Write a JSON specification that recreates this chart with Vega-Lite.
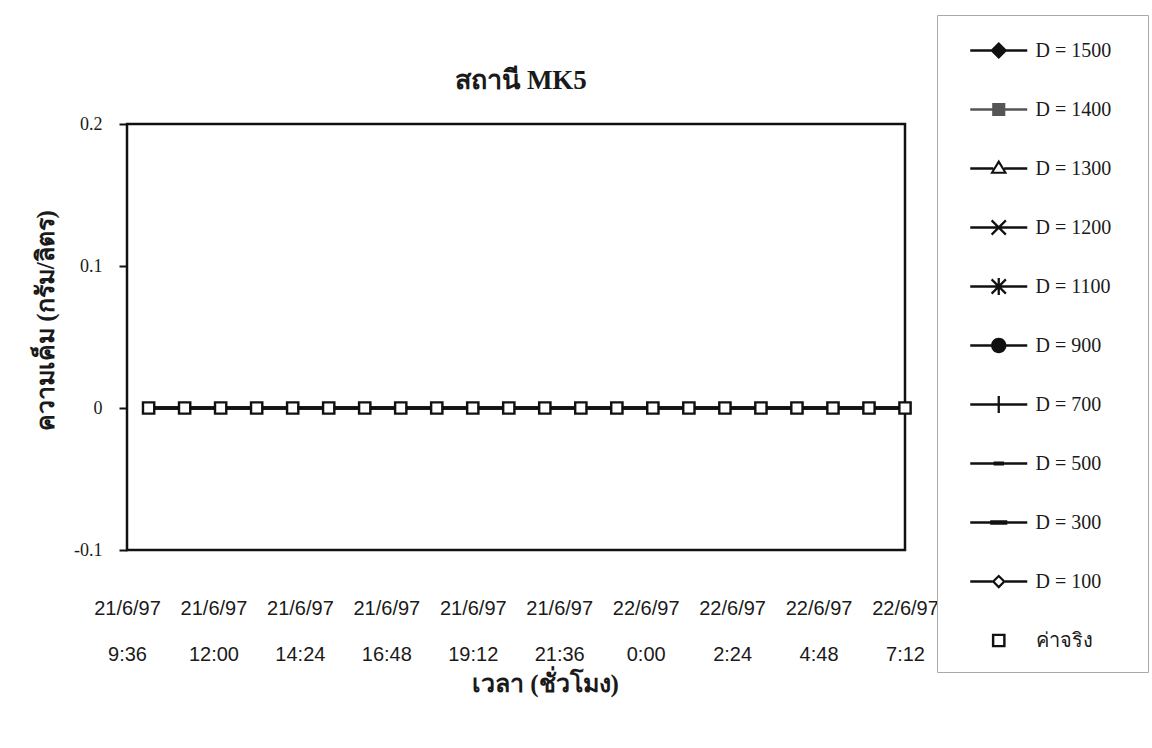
{
  "$schema": "https://vega.github.io/schema/vega-lite/v6.json",
  "width": 778,
  "height": 426,
  "autosize": {"type": "none"},
  "padding": {"left": 127, "top": 124, "right": 247, "bottom": 198},
  "background": "white",
  "title": {
    "text": "สถานี MK5",
    "font": "Liberation Serif",
    "fontSize": 27,
    "fontWeight": "bold",
    "color": "#1a1a1a",
    "anchor": "middle",
    "frame": "group",
    "baseline": "alphabetic",
    "offset": 0,
    "dx": 5,
    "dy": 101
  },
  "data": {
    "values": [
      {"t": "1997-06-21T10:12", "D = 1500": 0, "D = 1400": 0, "D = 1300": 0, "D = 1200": 0, "D = 1100": 0, "D = 900": 0, "D = 700": 0, "D = 500": 0, "D = 300": 0, "D = 100": 0, "ค่าจริง": 0},
      {"t": "1997-06-21T11:12", "D = 1500": 0, "D = 1400": 0, "D = 1300": 0, "D = 1200": 0, "D = 1100": 0, "D = 900": 0, "D = 700": 0, "D = 500": 0, "D = 300": 0, "D = 100": 0, "ค่าจริง": 0},
      {"t": "1997-06-21T12:12", "D = 1500": 0, "D = 1400": 0, "D = 1300": 0, "D = 1200": 0, "D = 1100": 0, "D = 900": 0, "D = 700": 0, "D = 500": 0, "D = 300": 0, "D = 100": 0, "ค่าจริง": 0},
      {"t": "1997-06-21T13:12", "D = 1500": 0, "D = 1400": 0, "D = 1300": 0, "D = 1200": 0, "D = 1100": 0, "D = 900": 0, "D = 700": 0, "D = 500": 0, "D = 300": 0, "D = 100": 0, "ค่าจริง": 0},
      {"t": "1997-06-21T14:12", "D = 1500": 0, "D = 1400": 0, "D = 1300": 0, "D = 1200": 0, "D = 1100": 0, "D = 900": 0, "D = 700": 0, "D = 500": 0, "D = 300": 0, "D = 100": 0, "ค่าจริง": 0},
      {"t": "1997-06-21T15:12", "D = 1500": 0, "D = 1400": 0, "D = 1300": 0, "D = 1200": 0, "D = 1100": 0, "D = 900": 0, "D = 700": 0, "D = 500": 0, "D = 300": 0, "D = 100": 0, "ค่าจริง": 0},
      {"t": "1997-06-21T16:12", "D = 1500": 0, "D = 1400": 0, "D = 1300": 0, "D = 1200": 0, "D = 1100": 0, "D = 900": 0, "D = 700": 0, "D = 500": 0, "D = 300": 0, "D = 100": 0, "ค่าจริง": 0},
      {"t": "1997-06-21T17:12", "D = 1500": 0, "D = 1400": 0, "D = 1300": 0, "D = 1200": 0, "D = 1100": 0, "D = 900": 0, "D = 700": 0, "D = 500": 0, "D = 300": 0, "D = 100": 0, "ค่าจริง": 0},
      {"t": "1997-06-21T18:12", "D = 1500": 0, "D = 1400": 0, "D = 1300": 0, "D = 1200": 0, "D = 1100": 0, "D = 900": 0, "D = 700": 0, "D = 500": 0, "D = 300": 0, "D = 100": 0, "ค่าจริง": 0},
      {"t": "1997-06-21T19:12", "D = 1500": 0, "D = 1400": 0, "D = 1300": 0, "D = 1200": 0, "D = 1100": 0, "D = 900": 0, "D = 700": 0, "D = 500": 0, "D = 300": 0, "D = 100": 0, "ค่าจริง": 0},
      {"t": "1997-06-21T20:12", "D = 1500": 0, "D = 1400": 0, "D = 1300": 0, "D = 1200": 0, "D = 1100": 0, "D = 900": 0, "D = 700": 0, "D = 500": 0, "D = 300": 0, "D = 100": 0, "ค่าจริง": 0},
      {"t": "1997-06-21T21:12", "D = 1500": 0, "D = 1400": 0, "D = 1300": 0, "D = 1200": 0, "D = 1100": 0, "D = 900": 0, "D = 700": 0, "D = 500": 0, "D = 300": 0, "D = 100": 0, "ค่าจริง": 0},
      {"t": "1997-06-21T22:12", "D = 1500": 0, "D = 1400": 0, "D = 1300": 0, "D = 1200": 0, "D = 1100": 0, "D = 900": 0, "D = 700": 0, "D = 500": 0, "D = 300": 0, "D = 100": 0, "ค่าจริง": 0},
      {"t": "1997-06-21T23:12", "D = 1500": 0, "D = 1400": 0, "D = 1300": 0, "D = 1200": 0, "D = 1100": 0, "D = 900": 0, "D = 700": 0, "D = 500": 0, "D = 300": 0, "D = 100": 0, "ค่าจริง": 0},
      {"t": "1997-06-22T00:12", "D = 1500": 0, "D = 1400": 0, "D = 1300": 0, "D = 1200": 0, "D = 1100": 0, "D = 900": 0, "D = 700": 0, "D = 500": 0, "D = 300": 0, "D = 100": 0, "ค่าจริง": 0},
      {"t": "1997-06-22T01:12", "D = 1500": 0, "D = 1400": 0, "D = 1300": 0, "D = 1200": 0, "D = 1100": 0, "D = 900": 0, "D = 700": 0, "D = 500": 0, "D = 300": 0, "D = 100": 0, "ค่าจริง": 0},
      {"t": "1997-06-22T02:12", "D = 1500": 0, "D = 1400": 0, "D = 1300": 0, "D = 1200": 0, "D = 1100": 0, "D = 900": 0, "D = 700": 0, "D = 500": 0, "D = 300": 0, "D = 100": 0, "ค่าจริง": 0},
      {"t": "1997-06-22T03:12", "D = 1500": 0, "D = 1400": 0, "D = 1300": 0, "D = 1200": 0, "D = 1100": 0, "D = 900": 0, "D = 700": 0, "D = 500": 0, "D = 300": 0, "D = 100": 0, "ค่าจริง": 0},
      {"t": "1997-06-22T04:12", "D = 1500": 0, "D = 1400": 0, "D = 1300": 0, "D = 1200": 0, "D = 1100": 0, "D = 900": 0, "D = 700": 0, "D = 500": 0, "D = 300": 0, "D = 100": 0, "ค่าจริง": 0},
      {"t": "1997-06-22T05:12", "D = 1500": 0, "D = 1400": 0, "D = 1300": 0, "D = 1200": 0, "D = 1100": 0, "D = 900": 0, "D = 700": 0, "D = 500": 0, "D = 300": 0, "D = 100": 0, "ค่าจริง": 0},
      {"t": "1997-06-22T06:12", "D = 1500": 0, "D = 1400": 0, "D = 1300": 0, "D = 1200": 0, "D = 1100": 0, "D = 900": 0, "D = 700": 0, "D = 500": 0, "D = 300": 0, "D = 100": 0, "ค่าจริง": 0},
      {"t": "1997-06-22T07:12", "D = 1500": 0, "D = 1400": 0, "D = 1300": 0, "D = 1200": 0, "D = 1100": 0, "D = 900": 0, "D = 700": 0, "D = 500": 0, "D = 300": 0, "D = 100": 0, "ค่าจริง": 0}
    ]
  },
  "transform": [
    {
      "fold": ["D = 1500", "D = 1400", "D = 1300", "D = 1200", "D = 1100", "D = 900", "D = 700", "D = 500", "D = 300", "D = 100", "ค่าจริง"],
      "as": ["series", "value"]
    }
  ],
  "encoding": {
    "x": {
      "field": "t",
      "type": "temporal",
      "scale": {
        "domain": [
          {"year": 1997, "month": 6, "date": 21, "hours": 9, "minutes": 36},
          {"year": 1997, "month": 6, "date": 22, "hours": 7, "minutes": 12}
        ]
      },
      "axis": {
        "title": "เวลา (ชั่วโมง)",
        "values": [
          {"year": 1997, "month": 6, "date": 21, "hours": 9, "minutes": 36},
          {"year": 1997, "month": 6, "date": 21, "hours": 12, "minutes": 0},
          {"year": 1997, "month": 6, "date": 21, "hours": 14, "minutes": 24},
          {"year": 1997, "month": 6, "date": 21, "hours": 16, "minutes": 48},
          {"year": 1997, "month": 6, "date": 21, "hours": 19, "minutes": 12},
          {"year": 1997, "month": 6, "date": 21, "hours": 21, "minutes": 36},
          {"year": 1997, "month": 6, "date": 22, "hours": 0, "minutes": 0},
          {"year": 1997, "month": 6, "date": 22, "hours": 2, "minutes": 24},
          {"year": 1997, "month": 6, "date": 22, "hours": 4, "minutes": 48},
          {"year": 1997, "month": 6, "date": 22, "hours": 7, "minutes": 12}
        ],
        "labelExpr": "[timeFormat(datum.value, '%-d/%-m/%y'), timeFormat(datum.value, '%-H:%M')]",
        "ticks": false,
        "domain": false,
        "grid": false,
        "labelPadding": 58,
        "labelBaseline": "middle",
        "labelLineHeight": 46,
        "labelFont": "Liberation Sans",
        "labelFontSize": 20,
        "labelColor": "#1a1a1a",
        "labelFlush": false,
        "labelOverlap": false,
        "titleFont": "Liberation Serif",
        "titleFontSize": 25,
        "titleFontWeight": "bold",
        "titleColor": "#1a1a1a",
        "titleX": 418,
        "titleY": 133,
        "titleAlign": "center",
        "titleBaseline": "middle"
      }
    },
    "y": {
      "field": "value",
      "type": "quantitative",
      "scale": {"domain": [-0.1, 0.2], "nice": false, "zero": false},
      "axis": {
        "title": "ความเค็ม (กรัม/ลิตร)",
        "values": [-0.1, 0, 0.1, 0.2],
        "labelExpr": "datum.value == 0 ? '0' : (datum.value < 0 ? '-' : '') + format(abs(datum.value), '.1f')",
        "tickSize": 8,
        "tickWidth": 2,
        "tickColor": "#111",
        "domain": false,
        "grid": false,
        "labelPadding": 17,
        "labelFont": "Liberation Serif",
        "labelFontSize": 18,
        "labelColor": "#1a1a1a",
        "titleFont": "Liberation Serif",
        "titleFontSize": 25,
        "titleFontWeight": "bold",
        "titleColor": "#1a1a1a",
        "titleAngle": -90,
        "titleX": -82,
        "titleY": 196,
        "titleAlign": "center",
        "titleBaseline": "middle"
      }
    }
  },
  "layer": [
    {
      "transform": [{"filter": "datum.series !== 'ค่าจริง'"}],
      "mark": {"type": "line", "color": "#111", "strokeWidth": 2.5},
      "encoding": {"detail": {"field": "series"}}
    },
    {
      "transform": [{"filter": "datum.series === 'ค่าจริง'"}],
      "mark": {"type": "point", "shape": "square", "filled": true, "size": 100, "color": "white", "strokeWidth": 0, "opacity": 1}
    },
    {
      "transform": [{"filter": "datum.series === 'ค่าจริง'"}],
      "mark": {"type": "point", "filled": true, "size": 812.25, "strokeWidth": 0, "opacity": 1},
      "encoding": {
        "shape": {
          "field": "series",
          "type": "nominal",
          "scale": {
            "domain": ["D = 1500", "D = 1400", "D = 1300", "D = 1200", "D = 1100", "D = 900", "D = 700", "D = 500", "D = 300", "D = 100", "ค่าจริง"],
            "range": [
              "M-2,-0.088H2V0.088H-2ZM0,-0.6L0.6,0L0,0.6L-0.6,0Z",
              "M-2,-0.088H2V0.088H-2ZM-0.46,-0.46H0.46V0.46H-0.46Z",
              "M-2,-0.088H-0.38V0.088H-2ZM0.38,-0.088H2V0.088H0.38ZM0,-0.64L0.6,0.36H-0.6ZM0,-0.33L-0.35,0.23H0.35Z",
              "M-2,-0.088H2V0.088H-2ZM-0.444,-0.556L0.556,0.444L0.444,0.556L-0.556,-0.444ZM-0.556,0.444L0.444,-0.556L0.556,-0.444L-0.444,0.556Z",
              "M-2,-0.088H2V0.088H-2ZM-0.444,-0.556L0.556,0.444L0.444,0.556L-0.556,-0.444ZM-0.556,0.444L0.444,-0.556L0.556,-0.444L-0.444,0.556ZM-0.08,-0.6H0.08V0.6H-0.08Z",
              "M-2,-0.088H2V0.088H-2ZM-0.54,0A0.54,0.54,0,1,1,0.54,0A0.54,0.54,0,1,1,-0.54,0Z",
              "M-2,-0.088H2V0.088H-2ZM-0.08,-0.6H0.08V0.6H-0.08Z",
              "M-2,-0.088H2V0.088H-2ZM-0.36,-0.14H0.36V0.14H-0.36Z",
              "M-2,-0.088H2V0.088H-2ZM-0.6,-0.16H0.6V0.16H-0.6Z",
              "M-2,-0.088H-0.44V0.088H-2ZM0.44,-0.088H2V0.088H0.44ZM0,-0.5L0.5,0L0,0.5L-0.5,0ZM0,-0.28L-0.28,0L0,0.28L0.28,0Z",
              "M-0.48,-0.48H0.48V0.48H-0.48ZM-0.31,-0.31V0.31H0.31V-0.31Z"
            ]
          },
          "legend": {
            "orient": "none",
            "legendX": 810,
            "legendY": -109,
            "title": null,
            "symbolSize": 812.25,
            "symbolStrokeWidth": 0,
            "symbolOffset": 26.25,
            "labelOffset": 22.25,
            "padding": 21,
            "rowPadding": 34,
            "strokeColor": "#aaa",
            "fillColor": "white",
            "labelFont": "Liberation Serif",
            "labelFontSize": 20,
            "labelColor": "#1a1a1a",
            "labelLimit": 300,
            "labelExpr": "datum.label + '\u2800'"
          }
        },
        "fill": {
          "field": "series",
          "type": "nominal",
          "scale": {
            "domain": ["D = 1500", "D = 1400", "D = 1300", "D = 1200", "D = 1100", "D = 900", "D = 700", "D = 500", "D = 300", "D = 100", "ค่าจริง"],
            "range": ["#111", "#555", "#111", "#111", "#111", "#111", "#111", "#111", "#111", "#111", "#111"]
          },
          "legend": {
            "orient": "none",
            "legendX": 810,
            "legendY": -109,
            "title": null,
            "symbolSize": 812.25,
            "symbolStrokeWidth": 0,
            "symbolOffset": 26.25,
            "labelOffset": 22.25,
            "padding": 21,
            "rowPadding": 34,
            "strokeColor": "#aaa",
            "fillColor": "white",
            "labelFont": "Liberation Serif",
            "labelFontSize": 20,
            "labelColor": "#1a1a1a",
            "labelLimit": 300,
            "labelExpr": "datum.label + '\u2800'"
          }
        }
      }
    }
  ],
  "config": {
    "view": {"stroke": "#111", "strokeWidth": 2.5}
  }
}
